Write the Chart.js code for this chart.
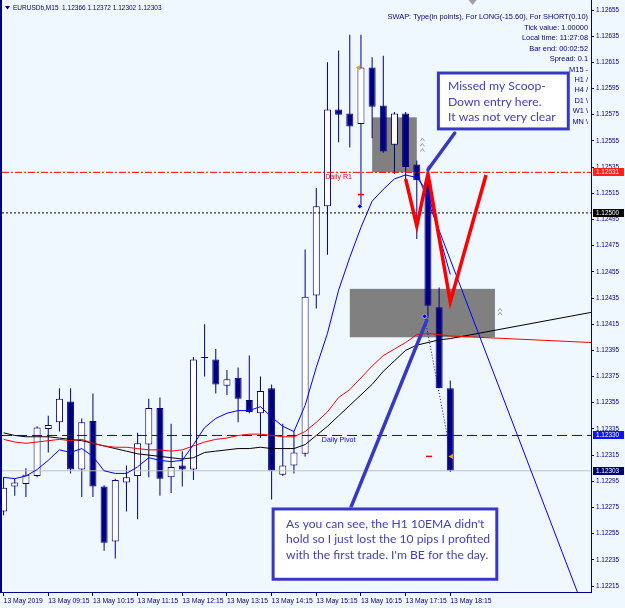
<!DOCTYPE html>
<html lang="en">
<head>
<meta charset="utf-8">
<title>EURUSDb, M15</title>
<script src="https://cdn.jsdelivr.net/npm/chart.js@4.4.1/dist/chart.umd.min.js"></script>
<style>
  html, body { margin: 0; padding: 0; background: #f0f8ff; overflow: hidden; }
  canvas { display: block; }
</style>
</head>
<body>
<canvas id="chart" width="625" height="608"></canvas>
<script>
// EURUSDb M15, 13 May 2019 - bar 0 is 08:15, bar 40 is 18:15
const opens = [1.12272, 1.12291, 1.12293, 1.12299, 1.12335, 1.12340, 1.12356, 1.12304, 1.12341, 1.12291,
  1.12249, 1.12294, 1.12299, 1.12323, 1.12351, 1.12298, 1.12307, 1.12304, 1.12389, 1.12388,
  1.12368, 1.12374, 1.12357, 1.12347, 1.12366, 1.12300, 1.12307, 1.12316, 1.12437, 1.12505,
  1.12579, 1.12576, 1.12568, 1.12611, 1.12582, 1.12552, 1.12576, 1.12537, 1.12524, 1.12428, 1.12366];
const highs = [1.12298, 1.12297, 1.12305, 1.12337, 1.12345, 1.12366, 1.12366, 1.12343, 1.12362, 1.12292,
  1.12297, 1.12307, 1.12332, 1.12358, 1.12359, 1.12339, 1.12318, 1.12390, 1.12415, 1.12396,
  1.12380, 1.12382, 1.12391, 1.12375, 1.12369, 1.12339, 1.12333, 1.12472, 1.12519, 1.12615,
  1.12624, 1.12636, 1.12636, 1.12619, 1.12620, 1.12577, 1.12577, 1.12540, 1.12530, 1.12443, 1.12372];
const lows = [1.12269, 1.12284, 1.12283, 1.12298, 1.12317, 1.12333, 1.12301, 1.12283, 1.12283, 1.12242,
  1.12236, 1.12272, 1.12266, 1.12298, 1.12284, 1.12286, 1.12291, 1.12296, 1.12375, 1.12362,
  1.12361, 1.12340, 1.12347, 1.12328, 1.12281, 1.12299, 1.12301, 1.12314, 1.12427, 1.12468,
  1.12554, 1.12550, 1.12505, 1.12557, 1.12546, 1.12530, 1.12525, 1.12480, 1.12420, 1.12366, 1.12302];
const closes = [1.12290, 1.12294, 1.12300, 1.12336, 1.12338, 1.12358, 1.12304, 1.12340, 1.12291, 1.12248,
  1.12296, 1.12298, 1.12324, 1.12351, 1.12297, 1.12306, 1.12304, 1.12388, 1.12390, 1.12369,
  1.12373, 1.12358, 1.12348, 1.12364, 1.12303, 1.12307, 1.12317, 1.12436, 1.12505, 1.12579,
  1.12575, 1.12566, 1.12611, 1.12581, 1.12547, 1.12576, 1.12535, 1.12525, 1.12429, 1.12366, 1.12303];

// moving averages (blue fast, red and black slower; the slow ones run on past the last bar)
const maBlue = [1.12298, 1.12297, 1.12299, 1.12304, 1.12311, 1.12319, 1.12317, 1.12320, 1.12314, 1.12303,
  1.12301, 1.12301, 1.12306, 1.12313, 1.12311, 1.12310, 1.12311, 1.12323, 1.12336, 1.12343,
  1.12347, 1.12349, 1.12349, 1.12352, 1.12344, 1.12337, 1.12333, 1.12353, 1.12382, 1.12408,
  1.12441, 1.12466, 1.12489, 1.12509, 1.12518, 1.12526, 1.12529, 1.12527, 1.12516, 1.12483, 1.12453];
const maRed = [1.12327, 1.12325, 1.12324, 1.12325, 1.12326, 1.12327, 1.12326, 1.12327, 1.12324, 1.12322,
  1.12321, 1.12321, 1.12320, 1.12319, 1.12319, 1.12318, 1.12319, 1.12322, 1.12325, 1.12327,
  1.12328, 1.12330, 1.12331, 1.12331, 1.12330, 1.12329, 1.12329, 1.12333, 1.12340, 1.12348,
  1.12359, 1.12365, 1.12374, 1.12383, 1.12391, 1.12396, 1.12401, 1.12407, 1.12408, 1.12407, 1.12406];
const maBlack = [1.12332, 1.12330, 1.12329, 1.12329, 1.12329, 1.12328, 1.12327, 1.12326, 1.12324, 1.12322,
  1.12320, 1.12318, 1.12316, 1.12315, 1.12314, 1.12313, 1.12312, 1.12313, 1.12317, 1.12318,
  1.12319, 1.12320, 1.12320, 1.12321, 1.12320, 1.12320, 1.12320, 1.12323, 1.12330, 1.12337,
  1.12345, 1.12353, 1.12361, 1.12369, 1.12379, 1.12387, 1.12395, 1.12399, 1.12401, 1.12403, 1.12404];
const tailBar = 52.6;
const maRedTail = 1.12401;
const maBlackTail = 1.12424;

// axis labels
const timeLabels = ['13 May 2019', '13 May 09:15', '13 May 10:15', '13 May 11:15', '13 May 12:15', '13 May 13:15',
  '13 May 14:15', '13 May 15:15', '13 May 16:15', '13 May 17:15', '13 May 18:15'];
const timeTickBars = [0, 4, 8, 12, 16, 20, 24, 28, 32, 36, 40];
const priceTicks = [1.12655, 1.12635, 1.12615, 1.12595, 1.12575, 1.12555, 1.12535, 1.12515, 1.12495, 1.12475,
  1.12455, 1.12435, 1.12415, 1.12395, 1.12375, 1.12355, 1.12335, 1.12315, 1.12295, 1.12275,
  1.12255, 1.12235, 1.12215];

// horizontal levels
const levelValues = [1.12531, 1.12500, 1.12330, 1.12303];
const levelNames = ['Daily R1', '', 'Daily Pivot', ''];
const levelNameBar = [28.8, 0, 28.5, 0];

// supply / demand boxes
const zoneFrom = [33, 31];
const zoneTo = [37, 44];
const zoneLow = [1.12531, 1.12405];
const zoneHigh = [1.12573, 1.12442];

// drawn objects
const zigBars = [36.0, 37.0, 38.0, 40.0, 43.2];
const zigPrices = [1.12526, 1.12490, 1.12530, 1.12432, 1.12529];
const trendBars = [37.1, 51.4];
const trendPrices = [1.12529, 1.12210];
const tradeBars = [37.7, 40.1];
const tradePrices = [1.12421, 1.12313];
const stopBars = [32.0, 38.1];
const stopPrices = [1.12514, 1.12314];
const entryBars = [31.9, 37.7];
const entryPrices = [1.12505, 1.12421];
const arrowBars = [31.8, 40.1];
const arrowPrices = [1.12611, 1.12314];
const chevronBars = [37.5, 37.5, 37.5, 44.45, 44.45];
const chevronPrices = [1.12556, 1.12552, 1.12548, 1.12426, 1.12423];

const infoLines = ['SWAP: Type(in points), For LONG(-15.60), For SHORT(0.10)', 'Tick value: 1.00000',
  'Local time: 11:27:08', 'Bar end: 00:02:52', 'Spread: 0.1', 'M15 -', 'H1 /', 'H4 /', 'D1 \\', 'W1 \\', 'MN \\'];

const callouts = [
  { from: 38.8, to: 50.7, high: 1.12608, low: 1.12563, width: 108, padX: 11, firstY: 15, step: 15.5,
    lines: ['Missed my Scoop-', 'Down entry here.', 'It was not very clear'],
    pointer: [[40.4, 1.12561], [38.0, 1.12533]] },
  { from: 24.0, to: 44.3, high: 1.12275, low: 1.12219, width: 204, padX: 14.5, firstY: 16.3, step: 15.5,
    lines: ["As you can see, the H1 10EMA didn't", 'hold so I just lost the 10 pips I profited', "with the first trade. I'm BE for the day."],
    pointer: [[31.1, 1.12275], [37.9, 1.12418]] }
];

const navy = '#000080';
const small = "'Liberation Sans', Arial, sans-serif";
const noteFont = "Lato, 'Open Sans', sans-serif";
const noteBlue = '#3838c8';
const levelColors = ['#ff0000', '#000000', '#0000ff', '#c0c0c0'];
const tagColors = ['#ff2020', '#000000', '#1010ff', '#000070'];

// chart frame: bar 0 sits at x=3.6, 11.17px per bar; 130909px per 1.0 price
const xMin = -0.143, xMax = 52.6;
const yMax = 1.1266264, yMin = 1.1221042;

const bars = opens.map((_, i) => i);
const pts = (xs, ys) => xs.map((v, i) => ({ x: v, y: ys[i] }));

function lineSet(data, color, width, dash, order) {
  return { type: 'line', data, borderColor: color, borderWidth: width, borderDash: dash || [],
    pointRadius: 0, fill: false, tension: 0, order };
}

const overlay = {
  id: 'overlay',
  beforeDraw(chart) {
    const { ctx, width, height } = chart;
    ctx.save();
    ctx.fillStyle = '#f0f8ff';
    ctx.fillRect(0, 0, width, height);
    ctx.restore();
  },
  beforeDatasetsDraw(chart) {
    const { ctx, scales: { x, y } } = chart;
    ctx.save();
    ctx.fillStyle = '#808080';
    zoneFrom.forEach((f, i) => {
      const x0 = x.getPixelForValue(f), x1 = x.getPixelForValue(zoneTo[i]);
      const y0 = y.getPixelForValue(zoneHigh[i]), y1 = y.getPixelForValue(zoneLow[i]);
      ctx.fillRect(x0, y0, x1 - x0, y1 - y0);
    });
    ctx.restore();
  },
  afterDatasetsDraw(chart) {
    const { ctx, scales: { x, y } } = chart;
    ctx.save();
    // level captions
    ctx.font = `7.1px ${small}`;
    ctx.textBaseline = 'middle';
    ctx.textAlign = 'left';
    levelValues.forEach((v, i) => {
      if (!levelNames[i]) return;
      ctx.fillStyle = levelColors[i];
      ctx.fillText(levelNames[i], x.getPixelForValue(levelNameBar[i]), y.getPixelForValue(v) + 5);
    });
    // small chevrons next to the boxes
    ctx.strokeStyle = '#a0a0a0';
    ctx.lineWidth = 1;
    chevronBars.forEach((b, i) => {
      const cx = x.getPixelForValue(b), cy = y.getPixelForValue(chevronPrices[i]);
      ctx.beginPath();
      ctx.moveTo(cx - 2, cy + 1.5);
      ctx.lineTo(cx, cy - 1.5);
      ctx.lineTo(cx + 2, cy + 1.5);
      ctx.stroke();
    });
    // callouts
    callouts.forEach(c => {
      const [p, q] = c.pointer;
      ctx.strokeStyle = noteBlue;
      ctx.lineWidth = 3.5;
      ctx.lineCap = 'round';
      ctx.beginPath();
      ctx.moveTo(x.getPixelForValue(p[0]), y.getPixelForValue(p[1]));
      ctx.lineTo(x.getPixelForValue(q[0]), y.getPixelForValue(q[1]));
      ctx.stroke();

      const x0 = x.getPixelForValue(c.from), x1 = x.getPixelForValue(c.to);
      const y0 = y.getPixelForValue(c.high), y1 = y.getPixelForValue(c.low);
      ctx.fillStyle = '#ffffff';
      ctx.fillRect(x0, y0, x1 - x0, y1 - y0);
      ctx.lineWidth = 3;
      ctx.strokeRect(x0 + 1.5, y0 + 1.5, x1 - x0 - 3, y1 - y0 - 3);

      ctx.font = `20px ${noteFont}`;
      const widest = Math.max(...c.lines.map(l => ctx.measureText(l).width));
      const size = 20 * c.width / widest;
      ctx.font = `${size.toFixed(2)}px ${noteFont}`;
      ctx.fillStyle = '#4040c0';
      ctx.textBaseline = 'middle';
      c.lines.forEach((l, i) => ctx.fillText(l, x0 + c.padX, y0 + c.firstY + i * c.step));
    });
    ctx.restore();
  },
  afterDraw(chart) {
    const { ctx, chartArea: area, scales: { x, y } } = chart;
    ctx.save();
    // left frame
    ctx.fillStyle = navy;
    ctx.fillRect(0, 0, 2, area.bottom + 1);
    // price tags on the axis
    ctx.font = `6.4px ${small}`;
    ctx.textBaseline = 'middle';
    ctx.textAlign = 'left';
    levelValues.forEach((v, i) => {
      const py = Math.round(y.getPixelForValue(v));
      ctx.fillStyle = tagColors[i];
      ctx.fillRect(area.right + 2, py - 4, 31, 8);
      ctx.fillStyle = '#ffffff';
      ctx.fillText(v.toFixed(5), area.right + 5, py + 0.5);
    });
    // title
    const last = opens.length - 1;
    ctx.fillStyle = navy;
    ctx.beginPath();
    ctx.moveTo(5, 6); ctx.lineTo(10, 6); ctx.lineTo(7.5, 9.5);
    ctx.closePath();
    ctx.fill();
    ctx.font = `6.5px ${small}`;
    ctx.fillText(`EURUSDb,M15  ${opens[last].toFixed(5)} ${highs[last].toFixed(5)} ${lows[last].toFixed(5)} ${closes[last].toFixed(5)}`, 13, 8);
    // info block
    ctx.font = `7.4px ${small}`;
    ctx.textAlign = 'right';
    infoLines.forEach((l, i) => ctx.fillText(l, 588, 17.3 + i * 10.44));
    // chart shift marker
    const sx = x.getPixelForValue(42.0);
    ctx.fillStyle = '#a0a0a0';
    ctx.beginPath();
    ctx.moveTo(sx - 4, 0); ctx.lineTo(sx + 4, 0); ctx.lineTo(sx, 5);
    ctx.closePath();
    ctx.fill();
    ctx.restore();
  }
};

const datasets = [
  { type: 'bar', data: bars.map(i => ({ x: i, y: [lows[i], highs[i]] })),
    backgroundColor: navy, borderWidth: 0, grouped: false, barPercentage: 0.09, categoryPercentage: 1, order: 20 },
  { type: 'bar', data: bars.map(i => ({ x: i, y: [opens[i], closes[i]] })),
    backgroundColor: bars.map(i => closes[i] >= opens[i] ? '#ffffff' : navy),
    borderColor: navy, borderWidth: 1, borderSkipped: false, grouped: false,
    barPercentage: 0.63, categoryPercentage: 1, minBarLength: 1, order: 19 },
  lineSet(pts([xMin, xMax], [levelValues[0], levelValues[0]]), levelColors[0], 1, [7, 2, 2, 2], 15),
  lineSet(pts([xMin, xMax], [levelValues[1], levelValues[1]]), levelColors[1], 1, [2, 2], 15),
  lineSet(pts([xMin, xMax], [levelValues[2], levelValues[2]]), levelColors[2], 1, [10, 5], 15),
  lineSet(pts([xMin, xMax], [levelValues[3], levelValues[3]]), levelColors[3], 1, [], 16),
  lineSet(pts([...bars, tailBar], [...maBlack, maBlackTail]), '#000000', 1, [], 12),
  lineSet(pts([...bars, tailBar], [...maRed, maRedTail]), '#ff0000', 1, [], 11),
  lineSet(pts(bars, maBlue), '#0000ff', 1, [], 10),
  lineSet(pts(trendBars, trendPrices), '#0000ff', 1, [], 9),
  lineSet(pts(tradeBars, tradePrices), '#0000ff', 1, [1, 2], 8),
  lineSet(pts(zigBars, zigPrices), '#ff0000', 3.5, [], 7),
  { type: 'line', data: pts(stopBars, stopPrices), showLine: false, pointStyle: 'line',
    pointRadius: 3, pointBorderColor: '#ff0000', pointBorderWidth: 1.5, order: 5 },
  { type: 'line', data: pts(entryBars, entryPrices), showLine: false, pointStyle: 'rectRot',
    pointRadius: 2.5, pointBackgroundColor: '#0000ff', pointBorderColor: '#ffffff', pointBorderWidth: 0.5, order: 5 },
  { type: 'line', data: pts(arrowBars, arrowPrices), showLine: false, pointStyle: 'triangle', rotation: -90,
    pointRadius: 3, pointBackgroundColor: '#f0a020', pointBorderColor: '#f0a020', pointBorderWidth: 0, order: 5 }
];

new Chart(document.getElementById('chart'), {
  type: 'bar',
  data: { datasets },
  options: {
    responsive: false,
    animation: false,
    events: [],
    layout: { autoPadding: false, padding: { left: 2, top: 0, right: 0, bottom: 0 } },
    plugins: { legend: { display: false }, tooltip: { enabled: false } },
    scales: {
      x: {
        type: 'linear', min: xMin, max: xMax, position: 'bottom', offset: false,
        afterBuildTicks: s => { s.ticks = timeTickBars.map(v => ({ value: v })); },
        afterFit: s => { s.height = 16; s.paddingLeft = 0; s.paddingRight = 0; },
        ticks: {
          callback: v => timeLabels[timeTickBars.indexOf(v)],
          align: 'start', autoSkip: false, maxRotation: 0, padding: 1,
          color: navy, font: { family: small, size: 6.8 }
        },
        grid: { drawOnChartArea: false, drawTicks: true, tickLength: 4, color: navy, offset: false },
        border: { color: navy, width: 1 }
      },
      y: {
        type: 'linear', min: yMin, max: yMax, position: 'right', stacked: false,
        afterBuildTicks: s => { s.ticks = priceTicks.map(v => ({ value: v })); },
        afterFit: s => { s.width = 34; s.paddingTop = 0; s.paddingBottom = 0; },
        ticks: {
          callback: v => v.toFixed(5), autoSkip: false, padding: 2,
          color: navy, font: { family: small, size: 6.4 }
        },
        grid: { drawOnChartArea: false, drawTicks: true, tickLength: 3, color: navy },
        border: { color: navy, width: 1 }
      }
    }
  },
  plugins: [overlay]
});
</script>
</body>
</html>
